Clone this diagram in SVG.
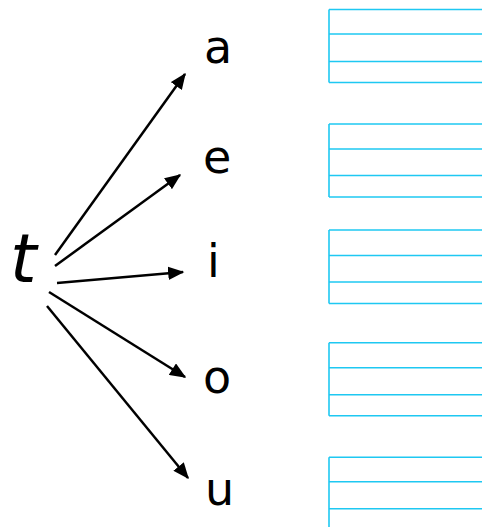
<svg xmlns="http://www.w3.org/2000/svg" width="482" height="527" viewBox="0 0 482 527">
<style>
.lbl{font-family:"DejaVu Sans","Liberation Sans",sans-serif;font-size:46px;fill:#000}
.big{font-size:68px;font-style:italic}
.conn line{stroke:#000;stroke-width:2.5;marker-end:url(#ah)}
.grid line{stroke:#1ec8f2;stroke-width:1.6}
</style>
<defs>
<marker id="ah" viewBox="0 0 12 10" refX="11" refY="5" markerWidth="6.6" markerHeight="5.4" orient="auto" markerUnits="strokeWidth">
<path d="M0,0 L12,5 L0,10 z" fill="#000"/>
</marker>
</defs>
<rect width="482" height="527" fill="#fff"/>
<g id="node-t"><text class="lbl big" x="10" y="282">t</text></g>
<g id="node-a"><text class="lbl" x="204" y="63">a</text></g>
<g id="node-e"><text class="lbl" x="203" y="173">e</text></g>
<g id="node-i"><text class="lbl" x="207" y="277">i</text></g>
<g id="node-o"><text class="lbl" x="203" y="393">o</text></g>
<g id="node-u"><text class="lbl" x="205" y="505">u</text></g>
<g id="connectors" class="conn">
<line x1="55" y1="255" x2="185" y2="74"/>
<line x1="55" y1="266" x2="180" y2="175"/>
<line x1="57" y1="283" x2="183" y2="272"/>
<line x1="49" y1="292" x2="185" y2="377"/>
<line x1="47" y1="306" x2="188" y2="478"/>
</g>
<g id="grid-a" class="grid">
<line x1="329" y1="9.5" x2="329" y2="82.5"/>
<line x1="329" y1="9.5" x2="482" y2="9.5"/>
<line x1="329" y1="34" x2="482" y2="34"/>
<line x1="329" y1="61.5" x2="482" y2="61.5"/>
<line x1="329" y1="82.5" x2="482" y2="82.5"/>
</g>
<g id="grid-e" class="grid">
<line x1="329" y1="124" x2="329" y2="197"/>
<line x1="329" y1="124" x2="482" y2="124"/>
<line x1="329" y1="149" x2="482" y2="149"/>
<line x1="329" y1="175.5" x2="482" y2="175.5"/>
<line x1="329" y1="197" x2="482" y2="197"/>
</g>
<g id="grid-i" class="grid">
<line x1="329" y1="230" x2="329" y2="303.5"/>
<line x1="329" y1="230" x2="482" y2="230"/>
<line x1="329" y1="255.5" x2="482" y2="255.5"/>
<line x1="329" y1="282" x2="482" y2="282"/>
<line x1="329" y1="303.5" x2="482" y2="303.5"/>
</g>
<g id="grid-o" class="grid">
<line x1="329" y1="342.7" x2="329" y2="415.7"/>
<line x1="329" y1="342.7" x2="482" y2="342.7"/>
<line x1="329" y1="367.7" x2="482" y2="367.7"/>
<line x1="329" y1="394.7" x2="482" y2="394.7"/>
<line x1="329" y1="415.7" x2="482" y2="415.7"/>
</g>
<g id="grid-u" class="grid">
<line x1="329" y1="457.3" x2="329" y2="527"/>
<line x1="329" y1="457.3" x2="482" y2="457.3"/>
<line x1="329" y1="481.7" x2="482" y2="481.7"/>
<line x1="329" y1="508.7" x2="482" y2="508.7"/>
</g>
</svg>
